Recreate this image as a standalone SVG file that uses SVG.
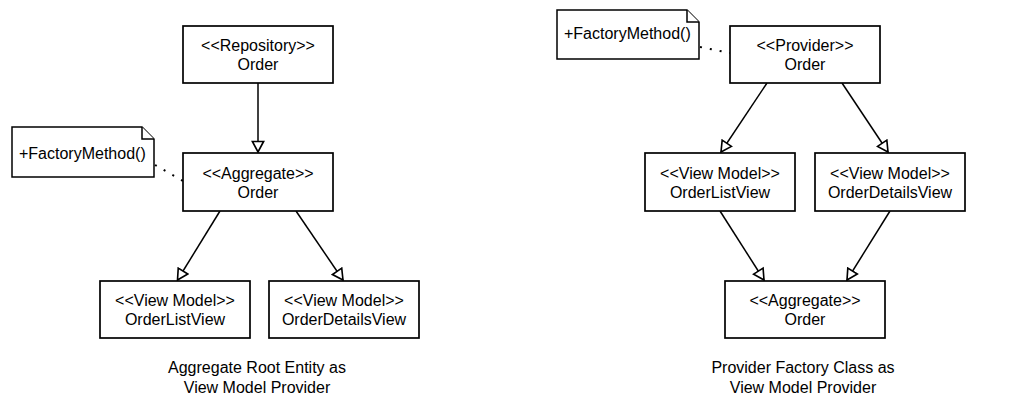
<svg xmlns="http://www.w3.org/2000/svg" width="1032" height="416" viewBox="0 0 1032 416">
<style>
.box{fill:#fff;stroke:#000;stroke-width:1.7}
.note{fill:#fff;stroke:#000;stroke-width:1.5;stroke-linejoin:miter}
.t{font-family:"Liberation Sans",Arial,sans-serif;font-size:16px;fill:#000;text-anchor:middle}
.tl{font-family:"Liberation Sans",Arial,sans-serif;font-size:16px;fill:#000}
.edge{fill:none;stroke:#000;stroke-width:1.5}
.dot{fill:none;stroke:#000;stroke-width:2;stroke-dasharray:2 8}
</style>
<defs>
<marker id="tri" markerUnits="userSpaceOnUse" markerWidth="14" markerHeight="14" viewBox="-10 -6 12 12" refX="0" refY="0" orient="auto">
<path d="M-9,-4.8 L0,0 L-9,4.8 Z" fill="#fff" stroke="#000" stroke-width="1.4"/>
</marker>
</defs>
<rect width="1032" height="416" fill="#fff"/>
<g id="connectors">
<line class="edge" x1="258" y1="83" x2="258" y2="152" marker-end="url(#tri)"/>
<line class="edge" x1="220" y1="211" x2="177.5" y2="280" marker-end="url(#tri)"/>
<line class="edge" x1="296" y1="211" x2="343" y2="280" marker-end="url(#tri)"/>
<line class="edge" x1="767" y1="83" x2="721" y2="152" marker-end="url(#tri)"/>
<line class="edge" x1="842" y1="83" x2="888" y2="152" marker-end="url(#tri)"/>
<line class="edge" x1="720" y1="211" x2="764" y2="280" marker-end="url(#tri)"/>
<line class="edge" x1="890" y1="211" x2="847" y2="280" marker-end="url(#tri)"/>
<line class="dot" x1="155" y1="165" x2="183" y2="181"/>
<line class="dot" x1="700" y1="47" x2="730" y2="53"/>
</g>
<g id="repository">
<rect class="box" x="183" y="26" width="150" height="57"/>
<text class="t" x="258" y="51">&lt;&lt;Repository&gt;&gt;</text>
<text class="t" x="258" y="70">Order</text>
</g>
<g id="aggregate1">
<rect class="box" x="183" y="153" width="150" height="58"/>
<text class="t" x="258" y="179">&lt;&lt;Aggregate&gt;&gt;</text>
<text class="t" x="258" y="198">Order</text>
</g>
<g id="note1">
<path class="note" d="M12,127 L142,127 L154,139 L154,177 L12,177 Z"/>
<path class="note" d="M142,127 L142,139 L154,139" fill="none"/>
<text class="tl" x="19" y="159">+FactoryMethod()</text>
</g>
<g id="orderListView1">
<rect class="box" x="100" y="281" width="150" height="57"/>
<text class="t" x="175" y="305.5">&lt;&lt;View Model&gt;&gt;</text>
<text class="t" x="175" y="324.5">OrderListView</text>
</g>
<g id="orderDetailsView1">
<rect class="box" x="269" y="281" width="150" height="57"/>
<text class="t" x="344" y="305.5">&lt;&lt;View Model&gt;&gt;</text>
<text class="t" x="344" y="324.5">OrderDetailsView</text>
</g>
<g id="caption1">
<text class="t" x="257" y="373">Aggregate Root Entity as</text>
<text class="t" x="257" y="393">View Model Provider</text>
</g>
<g id="note2">
<path class="note" d="M557,10 L687,10 L699,22 L699,59 L557,59 Z"/>
<path class="note" d="M687,10 L687,22 L699,22" fill="none"/>
<text class="tl" x="564" y="39">+FactoryMethod()</text>
</g>
<g id="provider">
<rect class="box" x="730" y="26" width="150" height="57"/>
<text class="t" x="805" y="51">&lt;&lt;Provider&gt;&gt;</text>
<text class="t" x="805" y="70">Order</text>
</g>
<g id="orderListView2">
<rect class="box" x="645" y="153" width="150" height="58"/>
<text class="t" x="720" y="179">&lt;&lt;View Model&gt;&gt;</text>
<text class="t" x="720" y="198">OrderListView</text>
</g>
<g id="orderDetailsView2">
<rect class="box" x="815" y="153" width="150" height="58"/>
<text class="t" x="890" y="179">&lt;&lt;View Model&gt;&gt;</text>
<text class="t" x="890" y="198">OrderDetailsView</text>
</g>
<g id="aggregate2">
<rect class="box" x="725" y="281" width="160" height="57"/>
<text class="t" x="805" y="305.5">&lt;&lt;Aggregate&gt;&gt;</text>
<text class="t" x="805" y="324.5">Order</text>
</g>
<g id="caption2">
<text class="t" x="803" y="373">Provider Factory Class as</text>
<text class="t" x="803" y="393">View Model Provider</text>
</g>
</svg>
